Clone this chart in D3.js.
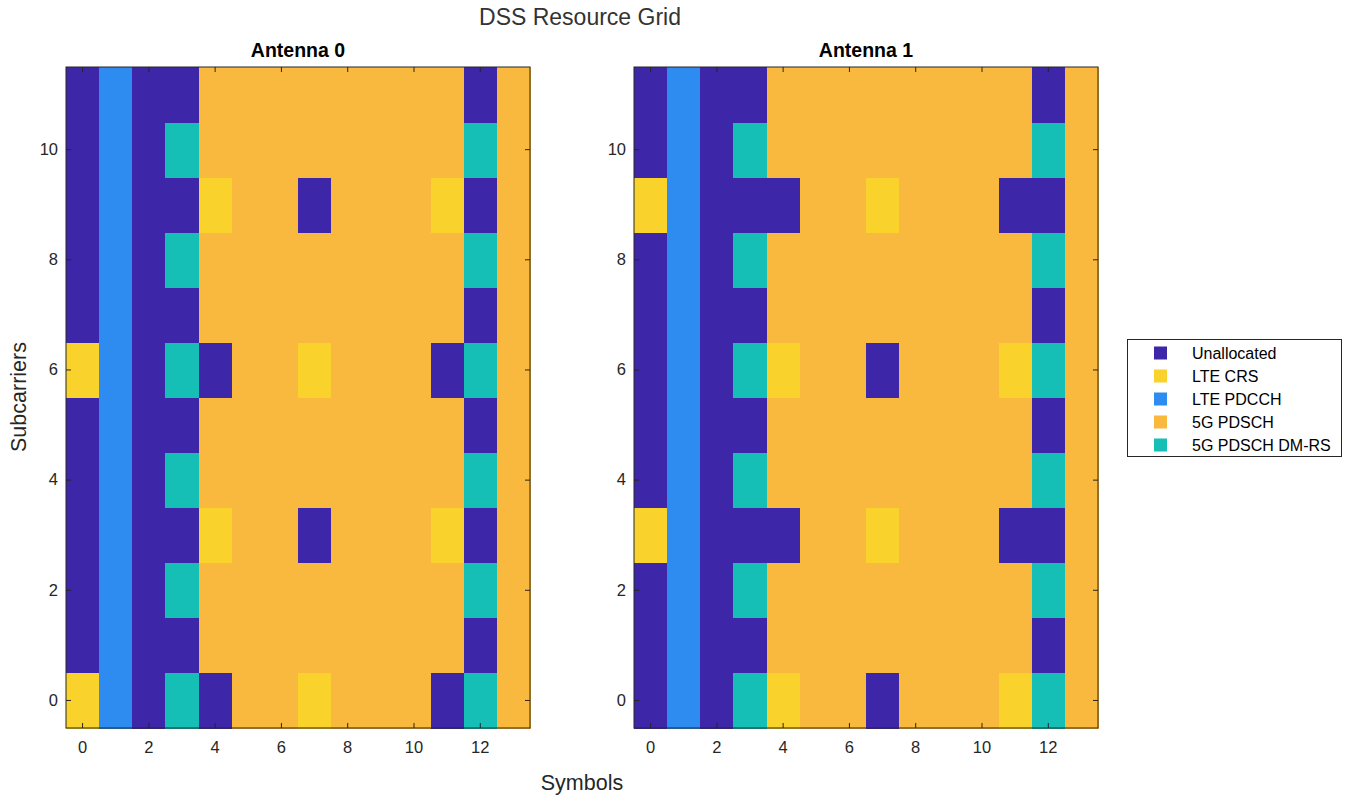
<!DOCTYPE html>
<html>
<head>
<meta charset="utf-8">
<script src="https://cdn.jsdelivr.net/npm/d3@7"></script>
<style>
  html, body { margin: 0; padding: 0; background: #fff; }
  svg { display: block; font-family: "Liberation Sans", Arial, Helvetica, sans-serif; }
</style>
</head>
<body>
<svg id="chart" width="1346" height="796"></svg>
<script>
// ---- Data ----
const categories = ["Unallocated", "LTE CRS", "LTE PDCCH", "5G PDSCH", "5G PDSCH DM-RS"];
const categoryColors = ["#3e26a8", "#f9d22b", "#2e8cf0", "#f9b93e", "#16bfb6"];
const symbols = [0, 1, 2, 3, 4, 5, 6, 7, 8, 9, 10, 11, 12, 13];
const subcarriers = [0, 1, 2, 3, 4, 5, 6, 7, 8, 9, 10, 11];
const xTickValues = [0, 2, 4, 6, 8, 10, 12];
const yTickValues = [0, 2, 4, 6, 8, 10];
const antennaTitles = ["Antenna 0", "Antenna 1"];

// category index per subcarrier (row 0 = subcarrier 0), per symbol (column)
const antenna0 = [
  [1, 2, 0, 4, 0, 3, 3, 1, 3, 3, 3, 0, 4, 3],
  [0, 2, 0, 0, 3, 3, 3, 3, 3, 3, 3, 3, 0, 3],
  [0, 2, 0, 4, 3, 3, 3, 3, 3, 3, 3, 3, 4, 3],
  [0, 2, 0, 0, 1, 3, 3, 0, 3, 3, 3, 1, 0, 3],
  [0, 2, 0, 4, 3, 3, 3, 3, 3, 3, 3, 3, 4, 3],
  [0, 2, 0, 0, 3, 3, 3, 3, 3, 3, 3, 3, 0, 3],
  [1, 2, 0, 4, 0, 3, 3, 1, 3, 3, 3, 0, 4, 3],
  [0, 2, 0, 0, 3, 3, 3, 3, 3, 3, 3, 3, 0, 3],
  [0, 2, 0, 4, 3, 3, 3, 3, 3, 3, 3, 3, 4, 3],
  [0, 2, 0, 0, 1, 3, 3, 0, 3, 3, 3, 1, 0, 3],
  [0, 2, 0, 4, 3, 3, 3, 3, 3, 3, 3, 3, 4, 3],
  [0, 2, 0, 0, 3, 3, 3, 3, 3, 3, 3, 3, 0, 3]
];
const antenna1 = [
  [0, 2, 0, 4, 1, 3, 3, 0, 3, 3, 3, 1, 4, 3],
  [0, 2, 0, 0, 3, 3, 3, 3, 3, 3, 3, 3, 0, 3],
  [0, 2, 0, 4, 3, 3, 3, 3, 3, 3, 3, 3, 4, 3],
  [1, 2, 0, 0, 0, 3, 3, 1, 3, 3, 3, 0, 0, 3],
  [0, 2, 0, 4, 3, 3, 3, 3, 3, 3, 3, 3, 4, 3],
  [0, 2, 0, 0, 3, 3, 3, 3, 3, 3, 3, 3, 0, 3],
  [0, 2, 0, 4, 1, 3, 3, 0, 3, 3, 3, 1, 4, 3],
  [0, 2, 0, 0, 3, 3, 3, 3, 3, 3, 3, 3, 0, 3],
  [0, 2, 0, 4, 3, 3, 3, 3, 3, 3, 3, 3, 4, 3],
  [1, 2, 0, 0, 0, 3, 3, 1, 3, 3, 3, 0, 0, 3],
  [0, 2, 0, 4, 3, 3, 3, 3, 3, 3, 3, 3, 4, 3],
  [0, 2, 0, 0, 3, 3, 3, 3, 3, 3, 3, 3, 0, 3]
];
const grids = [antenna0, antenna1];

// ---- Layout ----
const svg = d3.select("#chart");
const axColor = "#262626";
const panels = [
  { left: 66, right: 530 },
  { left: 634, right: 1098 }
];
const plotTop = 67, plotBottom = 728;

const color = d3.scaleOrdinal().domain(d3.range(categories.length)).range(categoryColors);
const y = d3.scaleBand().domain(subcarriers).range([plotBottom, plotTop]).padding(0);

panels.forEach((p, i) => {
  const x = d3.scaleBand().domain(symbols).range([p.left, p.right]).padding(0);
  const g = svg.append("g");

  const cells = [];
  grids[i].forEach((row, sc) => row.forEach((cat, sym) => cells.push({ sc: subcarriers[sc], sym: symbols[sym], cat })));

  g.append("g").attr("shape-rendering", "crispEdges")
    .selectAll("rect.cell").data(cells).join("rect")
    .attr("class", "cell")
    .attr("x", d => x(d.sym))
    .attr("y", d => y(d.sc))
    .attr("width", x.bandwidth() + 0.5)
    .attr("height", y.bandwidth() + 0.5)
    .attr("fill", d => color(d.cat));

  const styleAxis = sel => {
    sel.select(".domain").remove();
    sel.selectAll("line").attr("stroke", axColor);
    sel.selectAll("text").attr("fill", axColor).style("font-size", "16.5px");
  };

  g.append("g").attr("transform", `translate(0,${plotBottom})`)
    .call(d3.axisBottom(x).tickValues(xTickValues).tickSize(-5).tickSizeOuter(0).tickPadding(13))
    .call(styleAxis);
  g.append("g").attr("transform", `translate(0,${plotTop})`)
    .call(d3.axisTop(x).tickValues(xTickValues).tickSize(-5).tickSizeOuter(0).tickFormat(""))
    .call(styleAxis);
  g.append("g").attr("transform", `translate(${p.left},0)`)
    .call(d3.axisLeft(y).tickValues(yTickValues).tickSize(-5).tickSizeOuter(0).tickPadding(8))
    .call(styleAxis);
  g.append("g").attr("transform", `translate(${p.right},0)`)
    .call(d3.axisRight(y).tickValues(yTickValues).tickSize(-5).tickSizeOuter(0).tickFormat(""))
    .call(styleAxis);

  g.append("rect")
    .attr("x", p.left).attr("y", plotTop)
    .attr("width", p.right - p.left).attr("height", plotBottom - plotTop)
    .attr("fill", "none").attr("stroke", axColor).attr("stroke-width", 1);

  g.append("text")
    .attr("x", (p.left + p.right) / 2).attr("y", 57)
    .attr("text-anchor", "middle")
    .attr("font-weight", "bold")
    .style("font-size", "19.5px")
    .attr("fill", "#000")
    .text(antennaTitles[i]);
});

// Overall title and labels
svg.append("text")
  .attr("x", 580).attr("y", 25)
  .attr("text-anchor", "middle")
  .style("font-size", "23px")
  .attr("fill", "#333")
  .text("DSS Resource Grid");

svg.append("text")
  .attr("x", 582).attr("y", 790)
  .attr("text-anchor", "middle")
  .style("font-size", "21.5px")
  .attr("fill", axColor)
  .text("Symbols");

svg.append("text")
  .attr("transform", "translate(26,397) rotate(-90)")
  .attr("text-anchor", "middle")
  .style("font-size", "21.5px")
  .attr("fill", axColor)
  .text("Subcarriers");

// Legend
const lg = svg.append("g");
lg.append("rect")
  .attr("x", 1127.5).attr("y", 339.5).attr("width", 214).attr("height", 117)
  .attr("fill", "#fff").attr("stroke", axColor).attr("stroke-width", 1);
const ly = d3.scalePoint().domain(categories).range([353, 445]);
const items = lg.selectAll("g.item").data(categories).join("g").attr("class", "item");
items.append("rect")
  .attr("x", 1154).attr("y", d => ly(d) - 6.5)
  .attr("width", 13).attr("height", 13)
  .attr("fill", (d, i) => color(i));
items.append("text")
  .attr("x", 1192).attr("y", d => ly(d))
  .attr("dy", "0.35em")
  .style("font-size", "16px")
  .attr("fill", "#000")
  .text(d => d);
</script>
</body>
</html>
